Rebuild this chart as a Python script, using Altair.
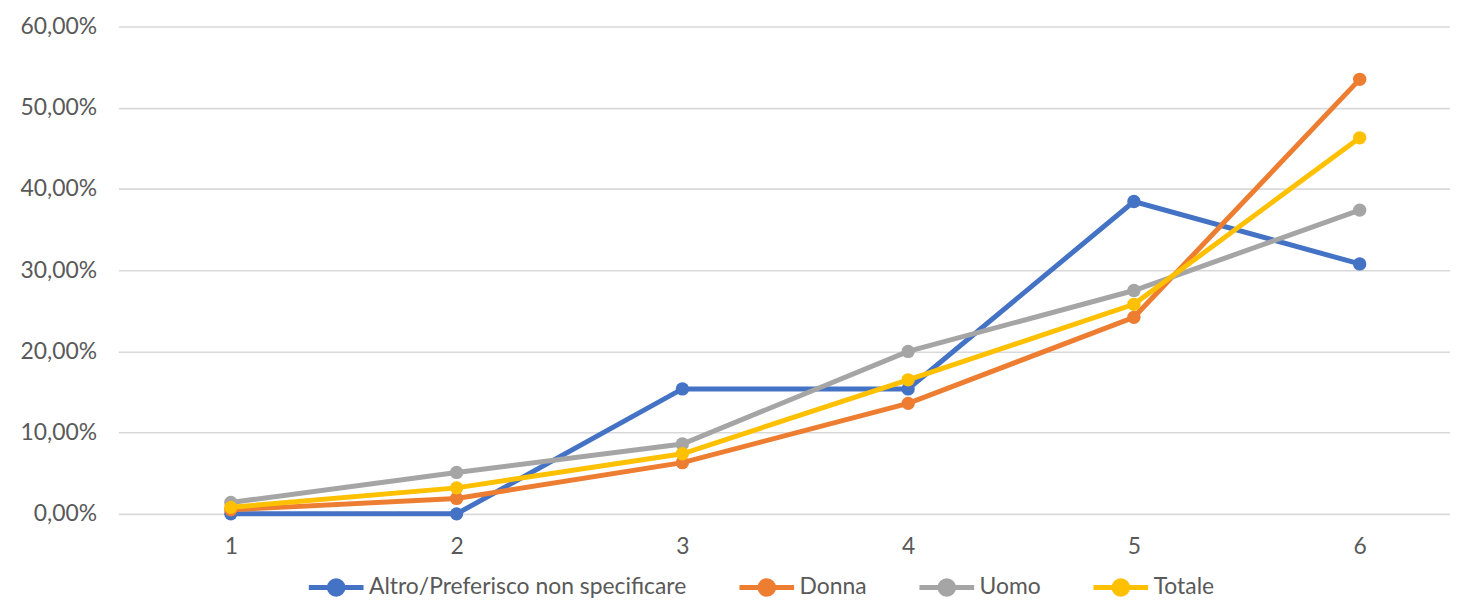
import altair as alt
import pandas as pd

categories = [1, 2, 3, 4, 5, 6]
series_names = ["Altro/Preferisco non specificare", "Donna", "Uomo", "Totale"]
altro = [0.0, 0.0, 15.38, 15.38, 38.46, 30.77]
donna = [0.5, 1.9, 6.3, 13.6, 24.2, 53.5]
uomo = [1.4, 5.1, 8.6, 20.0, 27.5, 37.4]
totale = [0.8, 3.2, 7.4, 16.5, 25.8, 46.3]
colors = ["#4472C4", "#ED7D31", "#A5A5A5", "#FFC000"]

rows = []
for si, (name, vals) in enumerate(zip(series_names, [altro, donna, uomo, totale])):
    for c, v in zip(categories, vals):
        rows.append({"cat": c, "serie": name, "val": v / 100.0, "ord": si})
df = pd.DataFrame(rows)

FONT = "Lato"
GREY = "#595959"
FS = 23

# legend symbol: a line with a filled dot (concentric rings)
sym = "M-1,0H1"
for r in [0.05, 0.1, 0.15, 0.2, 0.25]:
    sym += f"M{-r},0a{r},{r} 0 1,0 {2*r},0a{r},{r} 0 1,0 {-2*r},0"

chart = alt.Chart(df).mark_line(
    strokeWidth=5,
    point=alt.OverlayMarkDef(size=180, filled=True, opacity=1),
).encode(
    x=alt.X("cat:Q", scale=alt.Scale(domain=[0.502, 6.40], nice=False, zero=False),
            axis=alt.Axis(values=categories, format="d", title=None, grid=False,
                          domain=False, ticks=False, labelFontSize=FS, labelColor=GREY,
                          labelFont=FONT, labelPadding=22)),
    y=alt.Y("val:Q", scale=alt.Scale(domain=[0, 0.6], nice=False),
            axis=alt.Axis(values=[0, 0.1, 0.2, 0.3, 0.4, 0.5, 0.6], format=".2%",
                          labelExpr="replace(datum.label, '.', ',')", title=None,
                          grid=True, gridColor="#D9D9D9", gridWidth=1.6, domain=False,
                          ticks=False, labelFontSize=FS, labelColor=GREY, labelFont=FONT,
                          labelPadding=22)),
    color=alt.Color("serie:N", scale=alt.Scale(domain=series_names, range=colors),
                    legend=alt.Legend(title=None, orient="none", direction="horizontal",
                                      legendX=189, legendY=534, symbolType=sym,
                                      symbolSize=3025, symbolStrokeWidth=5,
                                      labelFontSize=FS, labelColor=GREY, labelFont=FONT,
                                      labelLimit=0, labelOffset=3, columnPadding=42)),
    order=alt.Order("ord:Q"),
).properties(
    width=1339, height=490,
    autosize=alt.AutoSizeParams(type="none"),
    padding={"left": 111, "top": 17, "right": 0, "bottom": 89},
).configure_view(stroke=None)

chart.save("out.html", embed_options={"renderer": "svg", "actions": False})
